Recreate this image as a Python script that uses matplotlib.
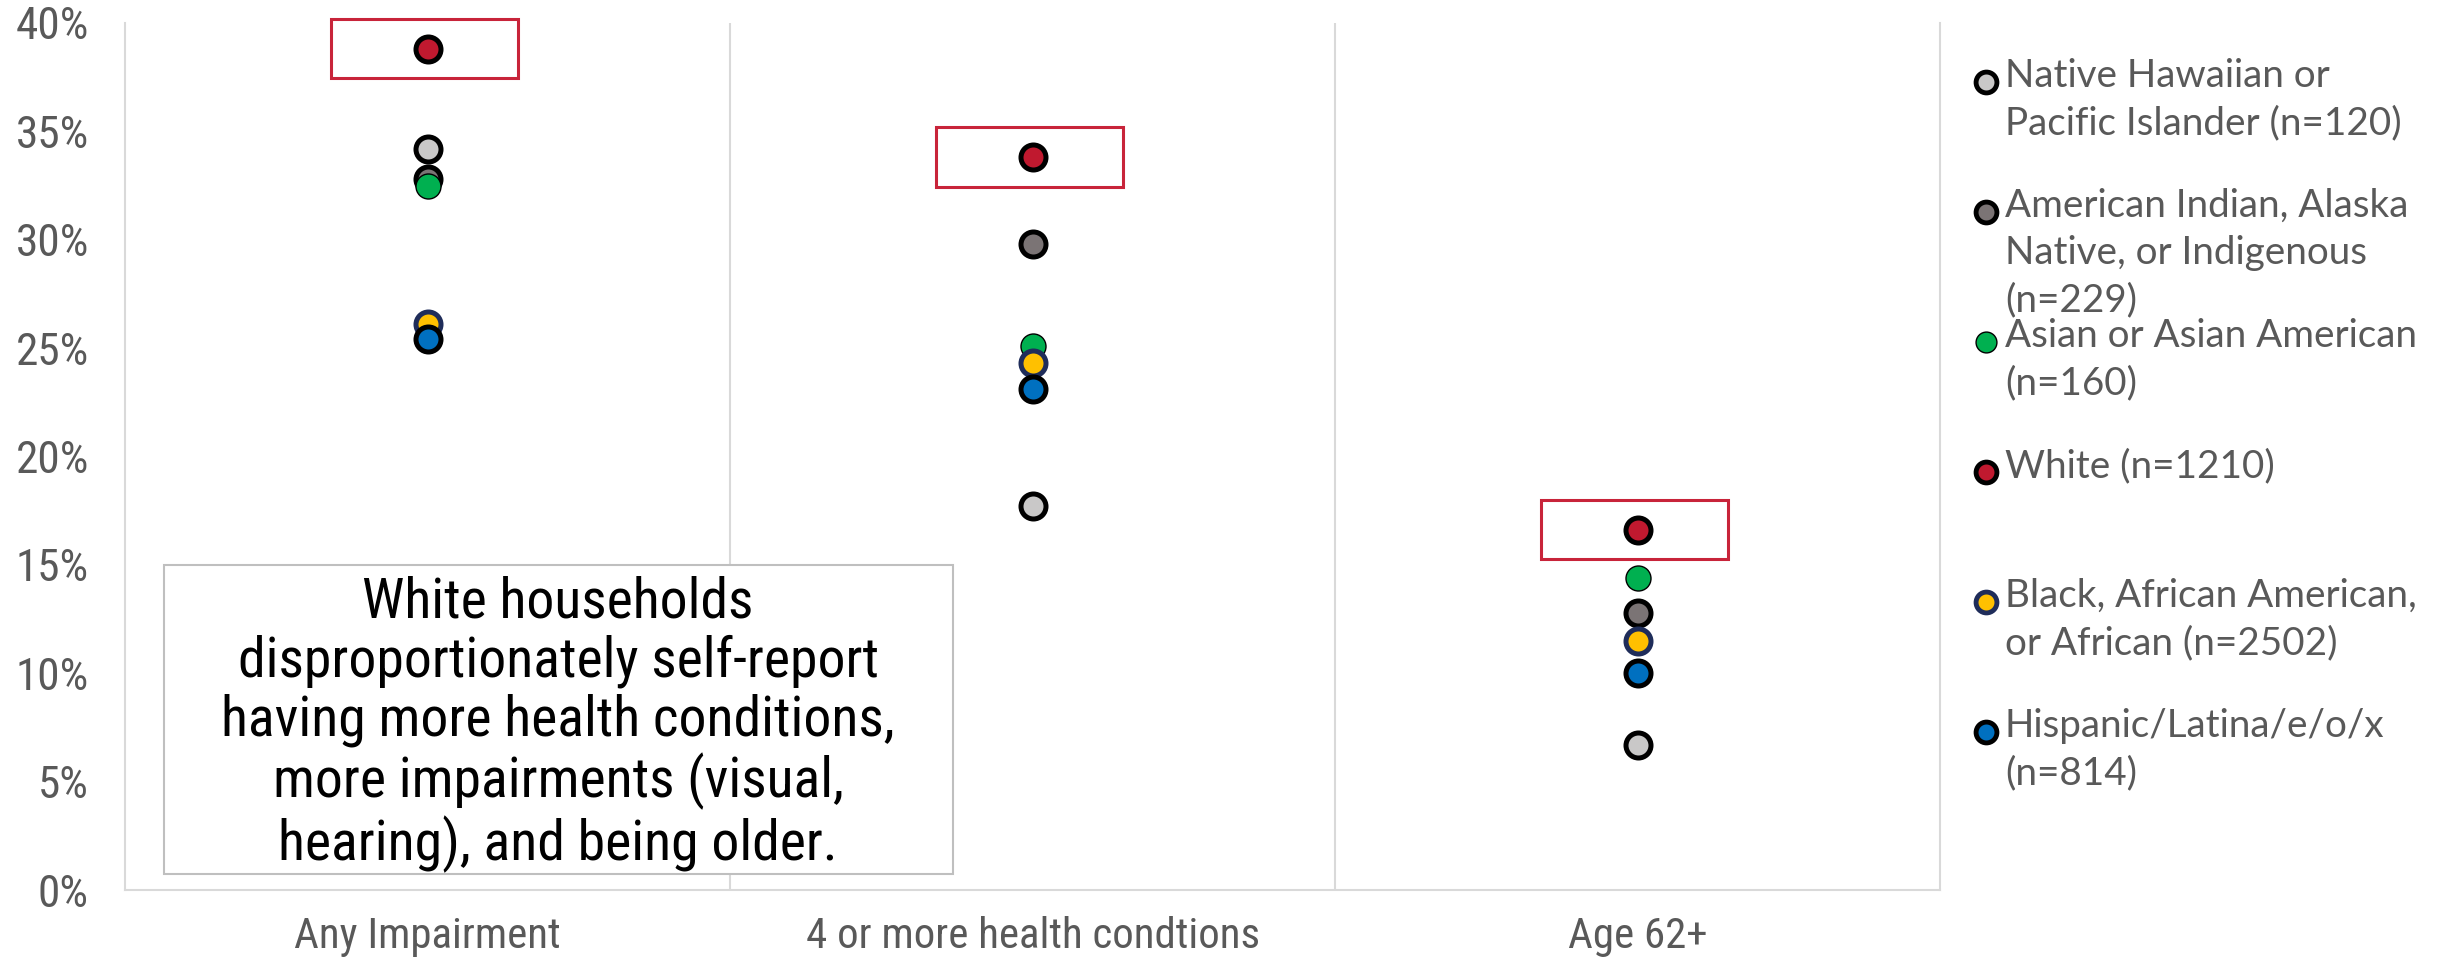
import matplotlib
matplotlib.use("Agg")
import matplotlib.pyplot as plt
from matplotlib import font_manager
from matplotlib.font_manager import FontProperties
from matplotlib.textpath import TextPath
from matplotlib.patches import Rectangle
from matplotlib.lines import Line2D
from matplotlib.ticker import PercentFormatter

# Data (percent of households)
categories = ['Any Impairment', '4 or more health condtions', 'Age 62+']
groups = ['Native Hawaiian or\nPacific Islander (n=120)',
          'American Indian, Alaska\nNative, or Indigenous\n(n=229)',
          'Asian or Asian American\n(n=160)',
          'White (n=1210)',
          'Black, African American,\nor African (n=2502)',
          'Hispanic/Latina/e/o/x\n(n=814)']
nhpi = [34.2, 17.7, 6.7]
aian = [32.8, 29.8, 12.8]
asian = [32.5, 25.1, 14.4]
white = [38.8, 33.8, 16.6]
black = [26.1, 24.3, 11.5]
hispanic = [25.4, 23.1, 10.0]
series = [nhpi, aian, asian, white, black, hispanic]

face_colors = ['#C9C8C8', '#7B7475', '#00B050', '#C0192F', '#FFC000', '#0070C0']
edge_colors = ['black', 'black', 'black', 'black', '#1F2D5A', 'black']
edge_widths = [3.6, 3.6, 1.0, 3.6, 3.6, 3.6]

note = ('White households\ndisproportionately self-report\nhaving more health conditions,\n'
        'more impairments (visual,\nhearing), and being older.')

# pick a narrow face if there is one
fonts = font_manager.fontManager.ttflist
names = {f.name for f in fonts}
narrow = FontProperties(family='DejaVu Sans')
for cand in ['Liberation Sans Narrow', 'Roboto Condensed', 'Open Sans Condensed']:
    if cand in names:
        narrow = FontProperties(family=cand)
        break
else:
    if any(f.name == 'DejaVu Sans' and f.stretch == 'condensed' for f in fonts):
        narrow = FontProperties(family='DejaVu Sans', stretch='condensed')
legend_fp = FontProperties(family='Lato' if 'Lato' in names else 'DejaVu Sans')


def fit(text, fp, px):
    # font size (pt) so that text is about px pixels wide at dpi 100
    w = TextPath((0, 0), text, size=10, prop=fp).get_extents().width
    return 10 * px / (w * 100 / 72)


tick_size = fit('40%', narrow, 70)
xlab_size = fit('Any Impairment', narrow, 264)
note_size = fit('disproportionately self-report', narrow, 635)
leg_size = fit('Asian or Asian American', legend_fp, 410)

grey_text = '#595959'
grid_col = '#D9D9D9'

fig = plt.figure(figsize=(24.48, 9.57), dpi=100)
ax = fig.add_axes([0.0511, 0.070, 0.7414, 0.906])

x = list(range(len(categories)))
for vals, fc, ec, ew in zip(series, face_colors, edge_colors, edge_widths):
    ax.plot(x, vals, linestyle='none', marker='o', markersize=18,
            markerfacecolor=fc, markeredgecolor=ec, markeredgewidth=ew, zorder=3)

# red boxes round the White values
for i, v in enumerate(white):
    ax.add_patch(Rectangle((i - 0.16, v - 1.35), 0.31, 2.75, fill=False,
                           edgecolor='#C8243A', linewidth=2.2, zorder=2, clip_on=False))

ax.set_xlim(-0.5, 2.5)
ax.set_ylim(0, 40)
ax.set_xticks(x)
ax.set_xticklabels(categories)
ax.set_yticks(range(0, 41, 5))
ax.yaxis.set_major_formatter(PercentFormatter(decimals=0))
for lab in ax.get_xticklabels():
    lab.set_fontproperties(narrow)
    lab.set_fontsize(xlab_size)
    lab.set_color(grey_text)
for lab in ax.get_yticklabels():
    lab.set_fontproperties(narrow)
    lab.set_fontsize(tick_size)
    lab.set_color(grey_text)
ax.tick_params(length=0)
ax.tick_params(axis='y', pad=26)
ax.tick_params(axis='x', pad=19)

# vertical separators between categories
for xb in [0.5, 1.5]:
    ax.axvline(xb, color=grid_col, linewidth=1.5, zorder=0)
for side in ['left', 'right', 'bottom']:
    ax.spines[side].set_color(grid_col)
    ax.spines[side].set_linewidth(1.5)
ax.spines['top'].set_visible(False)

# note box
ax.add_patch(Rectangle((0.0215, 0.018), 0.4345, 0.357, transform=ax.transAxes,
                       facecolor='white', edgecolor='#BFBFBF', linewidth=1.5, zorder=4))
ax.text(0.2386, 0.191, note, transform=ax.transAxes, ha='center', va='center',
        fontproperties=narrow, fontsize=note_size, color='black',
        linespacing=1.13, zorder=5)

# legend, evenly spaced entries like the original
W, H = 2448, 957
for k, (lab, fc, ec) in enumerate(zip(groups, face_colors, edge_colors)):
    yc = 82 + 130 * k
    ew = 1.0 if k == 2 else 3.5
    fig.add_artist(Line2D([1986 / W], [1 - yc / H], marker='o', markersize=15,
                          markerfacecolor=fc, markeredgecolor=ec,
                          markeredgewidth=ew, linestyle='none'))
    fig.text(2005 / W, 1 - (yc - 24) / H, lab, ha='left', va='top',
             fontproperties=legend_fp, fontsize=leg_size, color=grey_text,
             linespacing=1.38)

fig.savefig('out.png', dpi=100)
